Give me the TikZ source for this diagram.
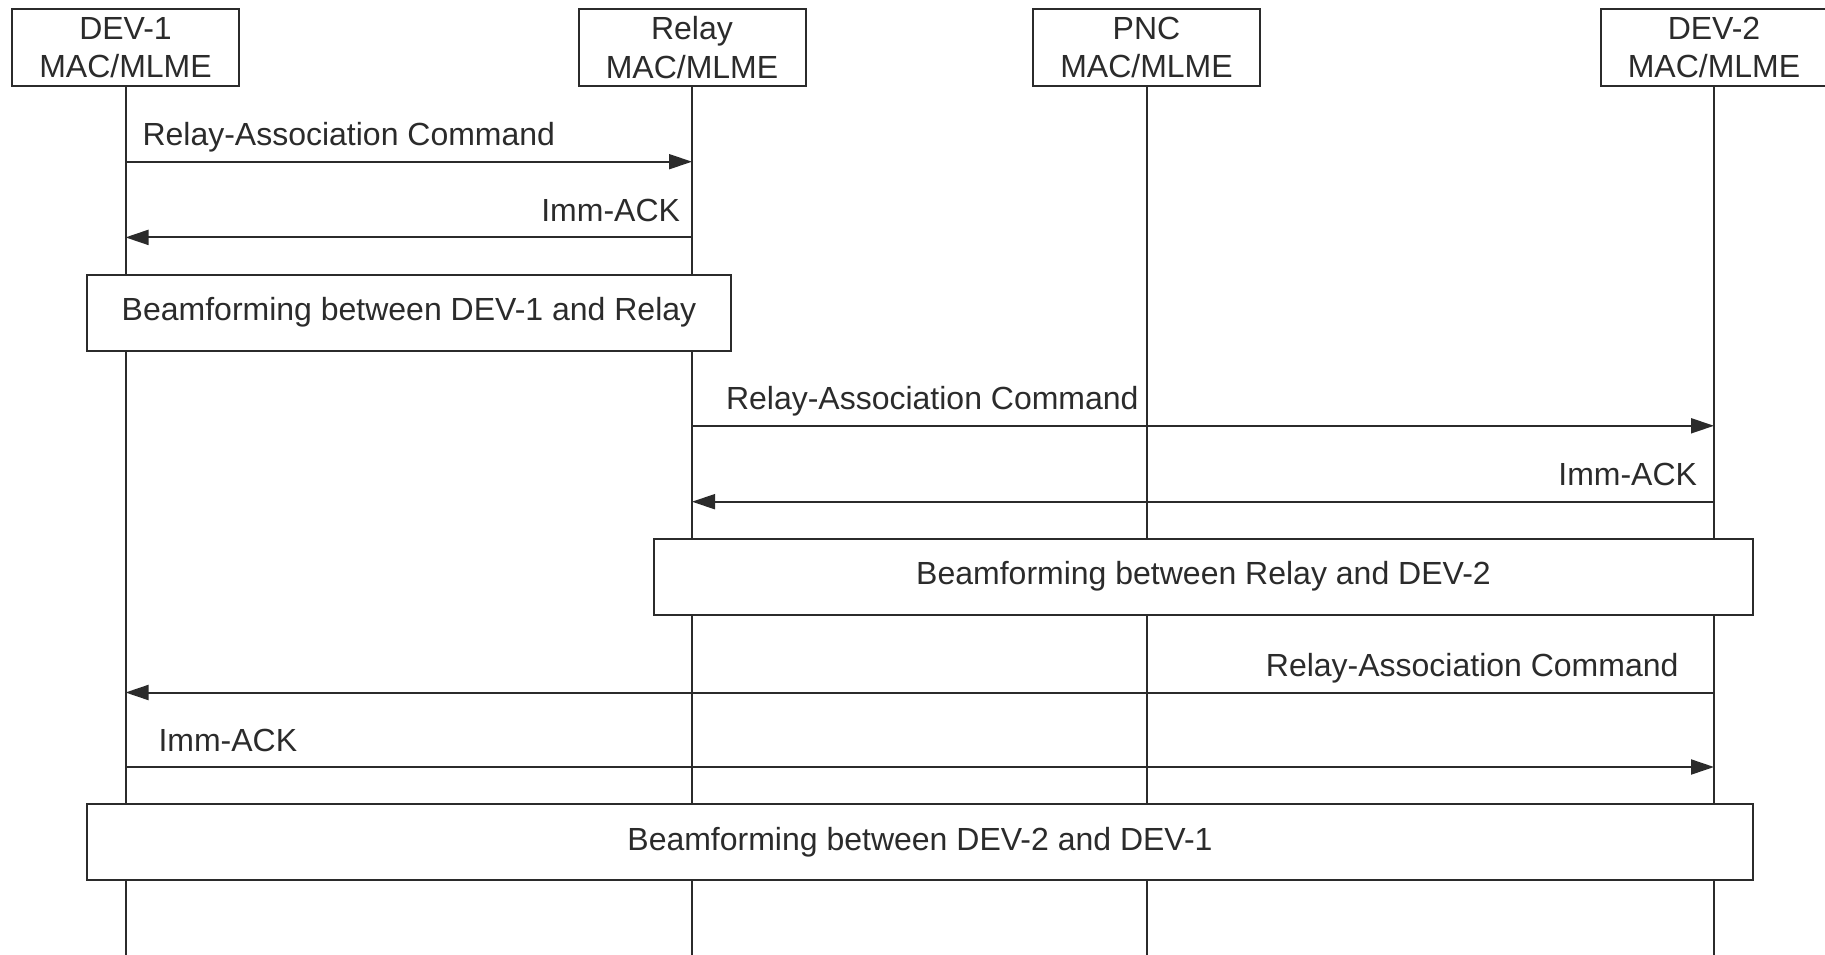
\documentclass[tikz,border=0pt]{standalone}
\usepackage{fontspec}
\setmainfont{Liberation Sans}
\usetikzlibrary{arrows.meta,positioning}
\definecolor{ink}{HTML}{2B2B2B}
\tikzset{
  entity/.style={draw=ink, line width=2pt, fill=white, minimum width=227pt,
    minimum height=77pt, align=center, inner sep=0pt, text=ink,
    font=\fontsize{32}{38.5}\selectfont},
  lifeline/.style={draw=ink, line width=2pt},
  msg/.style={draw=ink, line width=2pt, -{Triangle[length=23pt,width=15pt]}},
  msglabel/.style={inner sep=0pt, text=ink, font=\fontsize{32}{38}\selectfont},
  phase/.style={draw=ink, line width=2pt, fill=white, minimum height=76pt,
    inner sep=0pt, text=ink, font=\fontsize{32}{38}\selectfont},
}

\begin{document}
\begin{tikzpicture}[x=1pt,y=-1pt]
            \useasboundingbox (0,0) rectangle (1825,955);
            % entities
            \node[entity] (dev1) at (125.5,47.5) {DEV-1\\MAC/MLME};
            \node[entity] (relay) at (692,47.5) {Relay\\MAC/MLME};
            \node[entity] (pnc) at (1146.5,47.5) {PNC\\MAC/MLME};
            \node[entity] (dev2) at (1714,47.5) {DEV-2\\MAC/MLME};
            \coordinate (bottom) at (0,955);
            \draw[lifeline] (dev1) -- (dev1 |- bottom);
            \draw[lifeline] (relay) -- (relay |- bottom);
            \draw[lifeline] (pnc) -- (pnc |- bottom);
            \draw[lifeline] (dev2) -- (dev2 |- bottom);
            % message rows
            \coordinate (m1) at (0,161.7);
            \coordinate (m2) at (0,237.4);
            \coordinate (m3) at (0,425.8);
            \coordinate (m4) at (0,501.7);
            \coordinate (m5) at (0,692.5);
            \coordinate (m6) at (0,767);
            % DEV-1 <-> Relay
            \draw[msg] (dev1 |- m1) -- (relay |- m1) node[msglabel, at start, anchor=base west, xshift=16pt, yshift=16pt] (t1) {Relay-Association Command};
            \draw[msg] (relay |- m2) -- (dev1 |- m2) node[msglabel, at start, anchor=base east, xshift=-11pt, yshift=16pt] (t2) {Imm-ACK};
            \node[phase, minimum width=644pt] (bf1) at (409,312.5) {Beamforming between DEV-1 and Relay};
            % Relay <-> DEV-2
            \draw[msg] (relay |- m3) -- (dev2 |- m3) node[msglabel, at start, anchor=base west, xshift=33pt, yshift=16pt] (t3) {Relay-Association Command};
            \draw[msg] (dev2 |- m4) -- (relay |- m4) node[msglabel, at start, anchor=base east, xshift=-16pt, yshift=16pt] (t4) {Imm-ACK};
            \node[phase, minimum width=1099pt] (bf2) at (1203.5,576.7) {Beamforming between Relay and DEV-2};
            % DEV-2 <-> DEV-1
            \draw[msg] (dev2 |- m5) -- (dev1 |- m5) node[msglabel, at start, anchor=base east, xshift=-34.5pt, yshift=16pt] (t5) {Relay-Association Command};
            \draw[msg] (dev1 |- m6) -- (dev2 |- m6) node[msglabel, at start, anchor=base west, xshift=32pt, yshift=16pt] (t6) {Imm-ACK};
            \node[phase, minimum width=1666pt] (bf3) at (920,842) {Beamforming between DEV-2 and DEV-1};
        \end{tikzpicture}
\end{document}
